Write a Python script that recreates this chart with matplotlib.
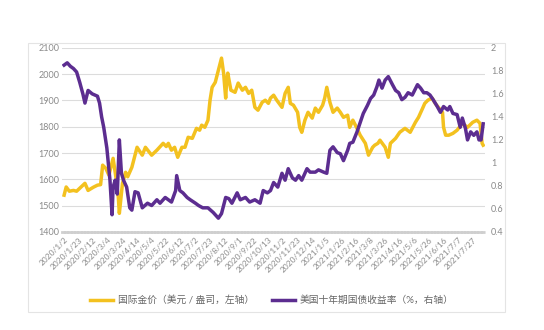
import matplotlib
matplotlib.use("Agg")
import matplotlib.pyplot as plt
from matplotlib.patches import Rectangle

plt.rcParams['font.family'] = ['Lato', 'Noto Sans CJK SC', 'DejaVu Sans']

# trading-day index -> value
gold_days = [0, 2, 5, 9, 12, 16, 20, 23, 28, 32, 35, 37, 40, 43, 47, 50, 52, 53, 56, 59,
             61, 65, 70, 75, 78, 84, 89, 95, 98, 100, 103, 106, 109, 113, 116, 119, 123, 127, 130, 132,
             135, 138, 140, 142, 145, 148, 151, 153, 155, 156, 157, 160, 164, 167, 171, 174, 177, 180, 183, 186,
             190, 193, 196, 198, 201, 204, 209, 212, 215, 217, 220, 224, 226, 228, 231, 234, 238, 241, 244, 248,
             250, 252, 255, 258, 262, 265, 268, 272, 274, 277, 281, 284, 289, 292, 296, 298, 301, 303, 308, 311,
             313, 318, 322, 327, 332, 337, 340, 344, 346, 349, 353, 356, 359, 363, 364, 366, 369, 373, 377, 382,
             387, 392, 396, 399, 401, 402]
gold = [1540, 1571, 1555, 1558, 1555, 1570, 1585, 1558, 1570, 1578, 1580, 1654, 1642, 1616, 1680, 1600, 1532, 1471, 1585, 1627,
        1610, 1646, 1722, 1692, 1722, 1692, 1711, 1737, 1725, 1737, 1711, 1722, 1684, 1722, 1722, 1760, 1756, 1794, 1787, 1806,
        1798, 1825, 1901, 1950, 1969, 2015, 2061, 2004, 1909, 1977, 2004, 1939, 1931, 1966, 1939, 1950, 1927, 1939, 1874, 1863,
        1893, 1901, 1889, 1909, 1920, 1901, 1874, 1927, 1950, 1889, 1882, 1855, 1798, 1779, 1825, 1855, 1833, 1871, 1855, 1882,
        1909, 1950, 1893, 1855, 1871, 1855, 1836, 1844, 1798, 1825, 1794, 1768, 1737, 1692, 1722, 1730, 1737, 1749, 1722, 1684,
        1737, 1756, 1779, 1794, 1779, 1817, 1836, 1871, 1889, 1901, 1909, 1889, 1874, 1855, 1798, 1768, 1768, 1775, 1787, 1813,
        1798, 1817, 1825, 1813, 1737, 1730]

yield_days = [0, 3, 6, 9, 12, 15, 18, 20, 23, 27, 32, 34, 36, 38, 41, 44, 46, 47, 49, 51,
              53, 55, 57, 60, 63, 65, 68, 71, 75, 80, 84, 89, 92, 97, 100, 103, 107, 108, 111, 114,
              118, 121, 126, 129, 133, 138, 143, 148, 151, 155, 158, 161, 166, 169, 174, 178, 183, 188, 191, 195,
              198, 201, 205, 209, 212, 215, 219, 222, 225, 228, 233, 236, 241, 244, 249, 252, 255, 258, 262, 265,
              268, 272, 274, 277, 281, 284, 287, 291, 294, 297, 300, 302, 305, 308, 311, 315, 318, 321, 324, 327,
              330, 334, 339, 342, 345, 348, 351, 354, 358, 361, 364, 368, 370, 373, 377, 380, 382, 385, 387, 390,
              393, 396, 398, 400, 402]
yields = [1.85, 1.87, 1.84, 1.82, 1.79, 1.70, 1.60, 1.52, 1.63, 1.60, 1.58, 1.52, 1.40, 1.31, 1.13, 0.85, 0.55, 0.79, 0.85, 0.73,
          1.20, 0.91, 0.85, 0.79, 0.61, 0.59, 0.75, 0.74, 0.61, 0.65, 0.63, 0.68, 0.65, 0.70, 0.68, 0.66, 0.76, 0.89, 0.76, 0.74,
          0.70, 0.68, 0.65, 0.63, 0.61, 0.61, 0.57, 0.52, 0.56, 0.70, 0.69, 0.65, 0.74, 0.68, 0.70, 0.66, 0.68, 0.65, 0.76, 0.74,
          0.76, 0.83, 0.79, 0.91, 0.85, 0.95, 0.87, 0.85, 0.89, 0.85, 0.95, 0.92, 0.92, 0.94, 0.92, 0.91, 1.11, 1.14, 1.09, 1.08,
          1.02, 1.11, 1.17, 1.18, 1.27, 1.35, 1.43, 1.50, 1.56, 1.59, 1.66, 1.72, 1.65, 1.72, 1.75, 1.68, 1.63, 1.61, 1.55, 1.57,
          1.61, 1.59, 1.68, 1.65, 1.61, 1.61, 1.59, 1.55, 1.49, 1.44, 1.49, 1.46, 1.49, 1.43, 1.42, 1.31, 1.39, 1.30, 1.20, 1.27,
          1.24, 1.27, 1.20, 1.20, 1.34]

date_labels = ['2020/1/2', '2020/1/23', '2020/2/12', '2020/3/4', '2020/3/24', '2020/4/14', '2020/5/4',
               '2020/5/22', '2020/6/12', '2020/7/2', '2020/7/23', '2020/8/12', '2020/9/1', '2020/9/22',
               '2020/10/13', '2020/11/2', '2020/11/23', '2020/12/14', '2021/1/5', '2021/1/26', '2021/2/16',
               '2021/3/8', '2021/3/26', '2021/4/16', '2021/5/6', '2021/5/26', '2021/6/16', '2021/7/7', '2021/7/27']
label_step = 14

gold_ticks = [1400, 1500, 1600, 1700, 1800, 1900, 2000, 2100]
yield_ticks = [0.4, 0.6, 0.8, 1.0, 1.2, 1.4, 1.6, 1.8, 2.0]
yield_tick_labels = ['0.4', '0.6', '0.8', '1', '1.2', '1.4', '1.6', '1.8', '2']

gold_color = '#F3C11F'
yield_color = '#5C2D90'
text_gray = '#8a8a8a'

fig = plt.figure(figsize=(5.44, 3.30), dpi=100)
fig.patches.append(Rectangle((0.0515, 0.055), 0.877, 0.815, transform=fig.transFigure,
                             fill=False, edgecolor='#e4e4e4', linewidth=0.8))
ax = fig.add_axes([0.114, 0.297, 0.778, 0.558])
ax2 = ax.twinx()

ax.plot(gold_days, gold, color=gold_color, linewidth=2.5, label='国际金价（美元 / 盎司，左轴）')
ax2.plot(yield_days, yields, color=yield_color, linewidth=2.5, label='美国十年期国债收益率（%，右轴）')

ax.set_xlim(-2, 404)
ax.set_ylim(1400, 2100)
ax2.set_ylim(0.4, 2.0)
ax.set_yticks(gold_ticks)
ax2.set_yticks(yield_ticks)
ax2.set_yticklabels(yield_tick_labels)

ax.set_xticks(list(range(0, label_step * len(date_labels), label_step)))
ax.set_xticklabels(date_labels, rotation=45, ha='right', rotation_mode='anchor')

ax.grid(axis='y', color='#dcdcdc', linewidth=0.8)
ax.set_axisbelow(True)
for a in (ax, ax2):
    for s in a.spines.values():
        s.set_visible(False)
    a.tick_params(length=0, labelsize=6.5, colors=text_gray)
ax.tick_params(axis='x', labelsize=6, pad=3)
ax.tick_params(axis='y', pad=2)
ax2.tick_params(axis='y', pad=4)
ax.spines['bottom'].set_visible(True)
ax.spines['bottom'].set_color('#cfcfcf')
ax.spines['bottom'].set_linewidth(2.0)
ax.spines['bottom'].set_linestyle((0, (0.6, 0.6)))

h1, l1 = ax.get_legend_handles_labels()
h2, l2 = ax2.get_legend_handles_labels()
fig.legend(h1 + h2, l1 + l2, loc='center', bbox_to_anchor=(0.5, 0.09), ncol=2, frameon=False,
           fontsize=7, labelcolor='#666666', handlelength=2.4, columnspacing=1.8, handletextpad=0.5)

fig.savefig('out.png', dpi=100)
